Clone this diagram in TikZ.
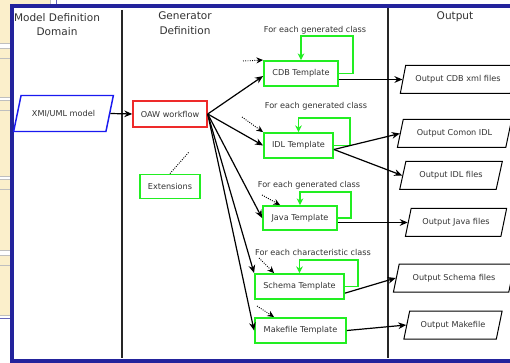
\documentclass[tikz,border=0pt]{standalone}
\usepackage{fontspec}
\setmainfont{DejaVu Sans}
\usepackage{tikz}
\usetikzlibrary{arrows.meta, shapes.geometric, calc}
\definecolor{Frame}{HTML}{23239C}
\definecolor{Lime}{HTML}{22EE22}
\definecolor{Flow}{HTML}{EE2A2A}
\definecolor{Uml}{HTML}{1A1AF0}
\definecolor{Ink}{HTML}{333333}
\definecolor{Sand}{HTML}{FBEFCB}

\begin{document}
\begin{tikzpicture}[
        x=0.75pt, y=-0.75pt,
        font=\fontsize{6.1}{7.3}\selectfont, text=Ink,
        rel/.style={-{Stealth[length=6pt,width=5pt]}, line width=0.9pt, draw=black},
        hint/.style={-{Stealth[length=5pt,width=4.5pt]}, densely dotted, line width=0.7pt, draw=black},
        loopback/.style={-{Stealth[length=5pt,width=5pt]}, line width=1.1pt, draw=Lime},
        tmpl/.style={draw=Lime, line width=1.4pt, minimum height=18.75pt, inner sep=2pt},
        slanted/.style={trapezium, trapezium left angle=75, trapezium right angle=105, trapezium stretches=true, inner xsep=1pt},
        outfile/.style={slanted, draw, line width=0.75pt, minimum height=21pt},
        head/.style={font=\fontsize{7.9}{10.8}\selectfont, align=center},
        divider/.style={draw=black!85, line width=1pt},
        panel/.style={fill=Sand, draw=black!25, line width=0.5pt}
      ]
        \useasboundingbox (0,0) rectangle (510,363);
        % screen behind the frame
        \draw[panel] (-2,-2) rectangle (50,43);
        \foreach \ya/\yb in {48/97, 100/176, 179/250, 255/315}
          {\draw[panel] (-2,\ya) rectangle (14,\yb);
           \draw[black!25, line width=0.5pt] (-2,\ya+10) -- (14,\ya+10);}
        \draw[Frame!70, line width=0.6pt] (56,-2) -- (56,6);
        \draw[Frame!70, line width=0.6pt] (-2,318) -- (12,318);
        \draw[Frame, line width=2.3pt, fill=white] (12,6) rectangle (520,361);
        \draw[divider] (122,10) -- (122,358);
        \draw[divider] (388,8) -- (388,358);

        \node[head] (modelhead) at (57,24.5) {Model Definition\\Domain};
        \node[head] (genhead) at (185,23) {Generator\\Definition};
        \node[head] (outhead) at (455,17) {Output};

        \node[slanted, trapezium left angle=70, trapezium right angle=110, draw=Uml, line width=1.1pt, minimum width=75pt, minimum height=27pt] (xmi) at (63.5,113.5) {XMI/UML model};
        \node[draw=Flow, line width=1.1pt, minimum width=55.5pt, minimum height=19.5pt] (oaw) at (170,114) {OAW workflow};
        \node[tmpl, minimum width=45pt, minimum height=18pt] (ext) at (170,186.5) {Extensions};

        \node[tmpl, minimum width=55.5pt] (cdb) at (301,73.5) {CDB Template};
        \node[tmpl, minimum width=51.75pt] (idl) at (298.5,145.5) {IDL Template};
        \node[tmpl, minimum width=55.5pt, minimum height=18pt] (java) at (300,218) {Java Template};
        \node[tmpl, minimum width=66.75pt] (schema) at (299.5,286.5) {Schema Template};
        \node[tmpl, minimum width=68.25pt] (make) at (300.5,330.5) {Makefile Template};

        \node (cdbnote) at (315,30) {For each generated class};
        \node (idlnote) at (316,106) {For each generated class};
        \node (javanote) at (309,185) {For each generated class};
        \node (schemanote) at (313,252) {For each characteristic class};

        \node[outfile, minimum width=87pt] (cdbout) at (458,79.5) {Output CDB xml files};
        \node[outfile, minimum width=86pt] (comonout) at (454.5,133.5) {Output Comon IDL};
        \node[outfile, minimum width=77pt] (idlout) at (451,175.5) {Output IDL files};
        \node[outfile, minimum width=76pt] (javaout) at (456,222.5) {Output Java files};
        \node[outfile, minimum width=91pt] (schemaout) at (454,278) {Output Schema files};
        \node[outfile, minimum width=74pt] (makeout) at (453,325) {Output Makefile};

        \coordinate (extend) at (189,152);
        \coordinate (cdbhint) at (243,61);
        \coordinate (idlhint) at (242,117);
        \coordinate (javahint) at (262,195);
        \coordinate (schemahint) at (259,258);
        \coordinate (makehint) at (257,306);

        \draw[rel] (xmi.east) -- (oaw.west);
        \draw[rel] (oaw.east) -- ([yshift=-1.9pt]cdb.west);
        \draw[rel] (oaw.east) -- (idl.west);
        \draw[rel] (oaw.east) -- (java.west);
        \draw[rel] (oaw.east) -- (schema.north west);
        \draw[rel] (oaw.east) -- (make.west);

        \draw[densely dotted, line width=0.7pt] (ext.north) -- (extend);
        \draw[hint] (cdbhint) -- (cdb.north west);
        \draw[hint] (idlhint) -- (idl.north west);
        \draw[hint] (javahint) -- ([xshift=13.5pt]java.north west);
        \draw[hint] (schemahint) -- ([xshift=15pt]schema.north west);
        \draw[hint] (makehint) -- ([xshift=15pt]make.north west);

        \draw[loopback] (cdb.east) -| ([shift={(14,-24)}]cdb.north east) -| (cdb.north);
        \draw[loopback] (idl.east) -| ([shift={(16,-14)}]idl.north east) -| (idl.north);
        \draw[loopback] (java.east) -| ([shift={(13,-13)}]java.north east) -| (java.north);
        \draw[loopback] (schema.east) -| ([shift={(13,-13)}]schema.north east) -| (schema.north);

        \draw[rel] (cdb.east |- cdbout.west) -- (cdbout.west);
        \draw[rel] ([yshift=-3pt]idl.east) -- (comonout.west);
        \draw[rel] ([yshift=-3pt]idl.east) -- (idlout.west);
        \draw[rel] (java.east |- javaout.west) -- (javaout.west);
        \draw[rel] ([yshift=-5pt]schema.east) -- (schemaout.west);
        \draw[rel] (make.east) -- (makeout.west);
      \end{tikzpicture}
\end{document}
